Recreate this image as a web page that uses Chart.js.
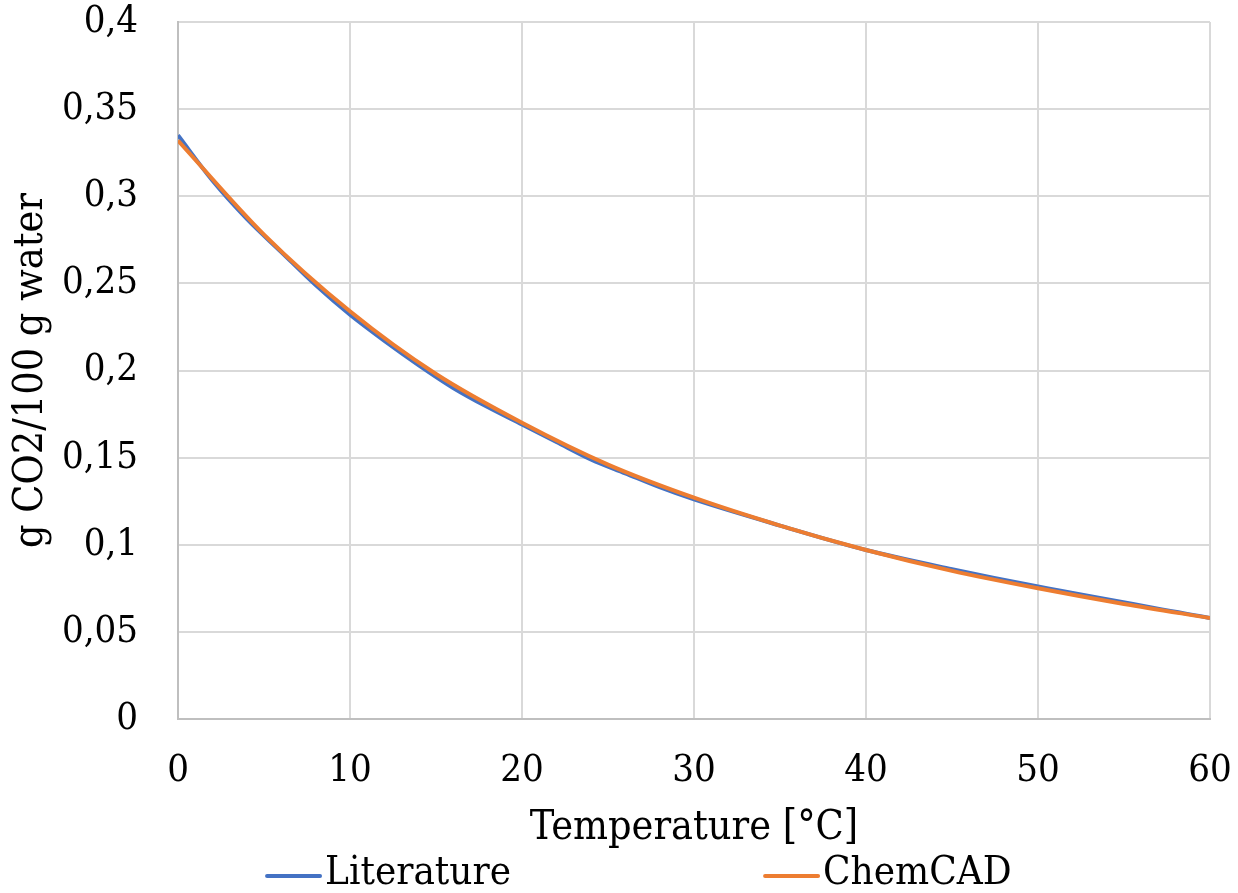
<!DOCTYPE html>
<html>
<head>
<meta charset="utf-8">
<script src="https://cdn.jsdelivr.net/npm/chart.js@4.4.0/dist/chart.umd.min.js"></script>
<style>
    html, body { margin: 0; padding: 0; background: #ffffff; }
    #wrap { width: 1238px; height: 893px; }
</style>
</head>
<body>
<div id="wrap"><canvas id="chart"></canvas></div>
<script>
// CO2 solubility in water, g CO2 per 100 g water
var litTemp = [0, 2, 4, 6, 8, 10, 12, 14, 16, 18, 20, 22, 24, 26, 28, 30, 35, 40, 45, 50, 60];
var litSol = [0.335, 0.309, 0.287, 0.268, 0.249, 0.232, 0.217, 0.203, 0.190, 0.179, 0.169,
              0.159, 0.149, 0.141, 0.133, 0.126, 0.111, 0.097, 0.086, 0.076, 0.058];

var chemTemp = [0, 5, 10, 15, 20, 25, 30, 35, 40, 45, 50, 55, 60];
var chemSol = [0.332, 0.278, 0.234, 0.198, 0.170, 0.146, 0.127, 0.111, 0.097, 0.085, 0.075, 0.066, 0.058];

var yTickLabels = ['0', '0,05', '0,1', '0,15', '0,2', '0,25', '0,3', '0,35', '0,4'];
var xTickLabels = ['0', '10', '20', '30', '40', '50', '60'];

var serif = "'DejaVu Serif Condensed', 'DejaVu Serif', serif";

function toPoints(xs, ys) {
    return xs.map(function (x, i) { return { x: x, y: ys[i] }; });
}

// legend drawn under the axis title, items spread apart like the office chart
const bottomLegend = {
    id: 'bottomLegend',
    afterDraw(chart) {
        var ctx = chart.ctx;
        var y = chart.height - 17;
        var starts = [chart.width * 0.2157, chart.width * 0.618];
        ctx.save();
        ctx.font = '40px ' + serif;
        ctx.textBaseline = 'middle';
        ctx.textAlign = 'left';
        chart.data.datasets.forEach(function (ds, i) {
            var x = starts[i];
            ctx.strokeStyle = ds.borderColor;
            ctx.lineWidth = 4;
            ctx.lineCap = 'round';
            ctx.beginPath();
            ctx.moveTo(x, y);
            ctx.lineTo(x + 53, y);
            ctx.stroke();
            ctx.fillStyle = '#000000';
            ctx.fillText(ds.label, x + 58, y - 2);
        });
        ctx.restore();
    }
};

window.onload = function () {
    const ctx = document.getElementById('chart');

    new Chart(ctx, {
        type: 'line',
        data: {
            datasets: [{
                label: 'Literature',
                data: toPoints(litTemp, litSol),
                borderColor: '#4472C4',
                backgroundColor: '#4472C4',
                borderWidth: 4,
                pointRadius: 0,
                cubicInterpolationMode: 'monotone',
                order: 1
            },
            {
                label: 'ChemCAD',
                data: toPoints(chemTemp, chemSol),
                borderColor: '#ED7D31',
                backgroundColor: '#ED7D31',
                borderWidth: 4,
                pointRadius: 0,
                cubicInterpolationMode: 'monotone',
                order: 0
            }]
        },
        options: {
            responsive: true,
            maintainAspectRatio: false,
            animation: false,
            layout: {
                padding: { top: 22, right: 28, bottom: 40, left: 0 }
            },
            plugins: {
                legend: { display: false },
                tooltip: { enabled: false }
            },
            scales: {
                x: {
                    type: 'linear',
                    min: 0,
                    max: 60,
                    grid: { color: '#d9d9d9', lineWidth: 2, drawTicks: false },
                    border: { color: '#bfbfbf', width: 2 },
                    ticks: {
                        stepSize: 10,
                        padding: 29,
                        maxRotation: 0,
                        color: '#000000',
                        font: { family: serif, size: 38 },
                        callback: function (value, index) { return xTickLabels[index]; }
                    },
                    title: {
                        display: true,
                        text: 'Temperature [°C]',
                        color: '#000000',
                        font: { family: serif, size: 41 },
                        padding: { top: 9, bottom: 0 }
                    },
                    // fixed axis band, label overflow is handled by layout padding
                    afterFit: function (scale) {
                        scale.height = 134;
                        scale.paddingLeft = 0;
                        scale.paddingRight = 0;
                    }
                },
                y: {
                    min: 0,
                    max: 0.4,
                    grid: { color: '#d9d9d9', lineWidth: 2, drawTicks: false },
                    border: { color: '#bfbfbf', width: 2 },
                    ticks: {
                        stepSize: 0.05,
                        padding: 40,
                        color: '#000000',
                        font: { family: serif, size: 38 },
                        callback: function (value, index) { return yTickLabels[index]; }
                    },
                    title: {
                        display: true,
                        text: 'g CO2/100 g water',
                        color: '#000000',
                        font: { family: serif, size: 41 },
                        padding: { top: 7, bottom: 4 }
                    },
                    afterFit: function (scale) {
                        scale.width = 178;
                        scale.paddingTop = 0;
                        scale.paddingBottom = 0;
                    }
                }
            }
        },
        plugins: [bottomLegend]
    });
}
</script>
</body>
</html>
